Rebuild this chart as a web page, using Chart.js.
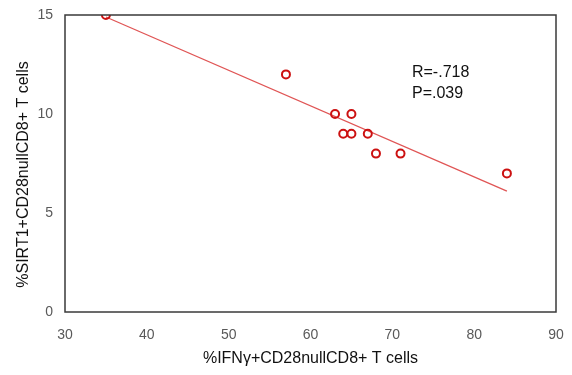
<!DOCTYPE html>
<html>
<head>
<meta charset="utf-8">
<script src="https://cdn.jsdelivr.net/npm/chart.js@4/dist/chart.umd.min.js"></script>
<style>
html,body{margin:0;padding:0;background:#fff;}
#wrap{width:572px;height:375px;position:relative;}
</style>
</head>
<body>
<div id="wrap"><canvas id="c" width="572" height="375"></canvas></div>
<script>
// Data
const ifnPct   = [35, 57, 63, 65, 64, 65, 67, 68, 71, 84];
const sirt1Pct = [15, 12, 10, 10,  9,  9,  9,  8,  8,  7];
const trendX   = [35, 84];
const trendY   = [14.9, 6.1];
const xTicks   = [30, 40, 50, 60, 70, 80, 90];
const yTicks   = [0, 5, 10, 15];
const statLines = ["R=-.718", "P=.039"];
const xTitle = '%IFNγ+CD28nullCD8+ T cells';
const yTitle = '%SIRT1+CD28nullCD8+ T cells';

const points = ifnPct.map((x, i) => ({x: x, y: sirt1Pct[i]}));
const trend = trendX.map((x, i) => ({x: x, y: trendY[i]}));

const FONT = "'Liberation Sans', Arial, sans-serif";

const boxPlugin = {
  id: 'box',
  afterDraw(chart) {
    const {ctx, chartArea: a, scales} = chart;
    ctx.save();
    ctx.strokeStyle = '#3a3a3a';
    ctx.lineWidth = 1.5;
    ctx.strokeRect(a.left, a.top, a.right - a.left, a.bottom - a.top);
    // stats annotation
    ctx.fillStyle = '#111';
    ctx.font = "16px " + FONT;
    ctx.textAlign = 'left';
    ctx.textBaseline = 'alphabetic';
    const px = scales.x.getPixelForValue(72.4);
    ctx.fillText(statLines[0], px, scales.y.getPixelForValue(11.87));
    ctx.fillText(statLines[1], px, scales.y.getPixelForValue(10.8));
    // y axis title
    ctx.translate(24, (a.top + a.bottom) / 2 + 11);
    ctx.rotate(-Math.PI / 2);
    ctx.textAlign = 'center';
    ctx.textBaseline = 'middle';
    ctx.fillText(yTitle, 0, 0);
    ctx.restore();
  }
};

new Chart(document.getElementById('c'), {
  type: 'scatter',
  data: {
    datasets: [
      {
        data: trend,
        type: 'line',
        showLine: true,
        borderColor: '#e05555',
        borderWidth: 1.3,
        pointRadius: 0,
        fill: false,
        order: 2
      },
      {
        data: points,
        pointStyle: 'circle',
        pointRadius: 4,
        pointBorderWidth: 2,
        pointBorderColor: '#cc1111',
        pointBackgroundColor: 'rgba(255,255,255,0)',
        order: 1
      }
    ]
  },
  options: {
    responsive: false,
    animation: false,
    devicePixelRatio: 1,
    layout: {padding: {left: 0, right: 16, top: 15, bottom: 0}},
    plugins: {legend: {display: false}, tooltip: {enabled: false}},
    scales: {
      x: {
        type: 'linear',
        min: 30, max: 90,
        afterBuildTicks: s => { s.ticks = xTicks.map(v => ({value: v})); },
        afterFit: s => { s.height = 63; s.paddingLeft = 0; s.paddingRight = 0; },
        grid: {display: false, drawTicks: false},
        border: {display: false},
        ticks: {color: '#595959', font: {family: FONT, size: 14}, padding: 15},
        title: {display: true, text: xTitle, color: '#111',
                font: {family: FONT, size: 16}, padding: {top: 4, bottom: 7}}
      },
      y: {
        type: 'linear',
        min: 0, max: 15,
        afterBuildTicks: s => { s.ticks = yTicks.map(v => ({value: v})); },
        afterFit: s => { s.width = 65; s.paddingTop = 0; s.paddingBottom = 0; },
        grid: {display: false, drawTicks: false},
        border: {display: false},
        ticks: {color: '#595959', font: {family: FONT, size: 14}, padding: 12},
        title: {display: false}
      }
    }
  },
  plugins: [boxPlugin]
});
</script>
</body>
</html>
